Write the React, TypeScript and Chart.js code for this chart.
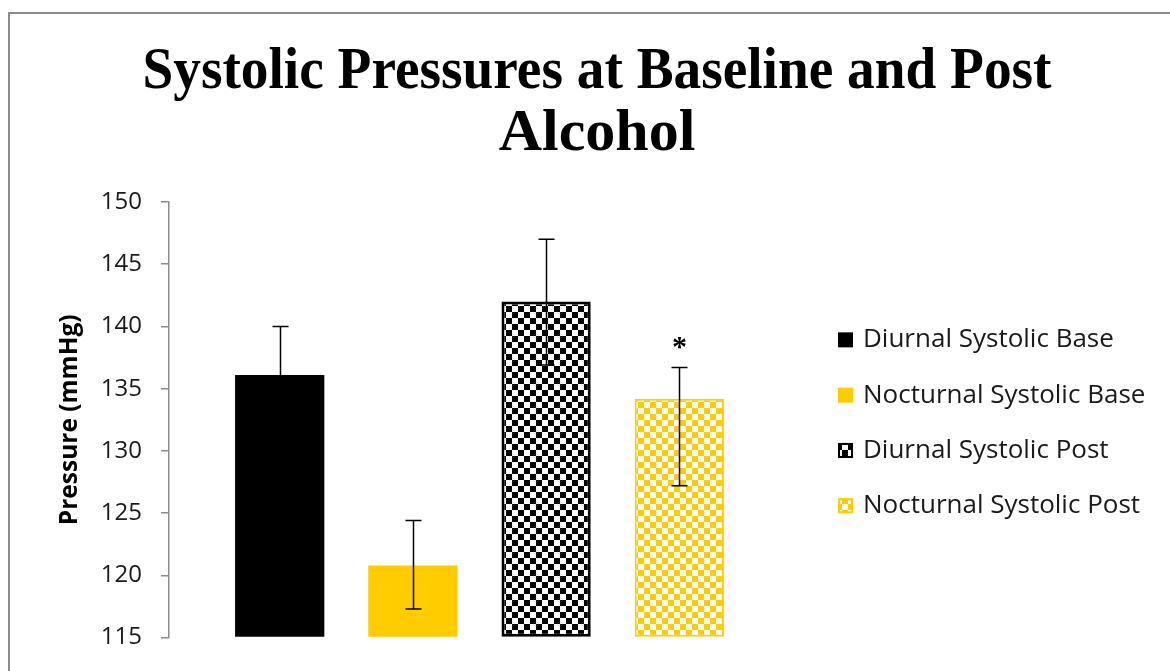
import React, { useEffect, useRef } from "react";
import { Chart, registerables } from "chart.js";

Chart.register(...registerables);

const titleLines = ["Systolic Pressures at Baseline and Post", "Alcohol"];
const yAxisTitle = "Pressure (mmHg)";
const categories = [""];
const seriesLabels = [
  "Diurnal Systolic Base",
  "Nocturnal Systolic Base",
  "Diurnal Systolic Post",
  "Nocturnal Systolic Post",
];
const seriesValues = [136.1, 120.8, 142.0, 134.2];
const errorPlus = [3.9, 3.6, 5.0, 2.5];
const errorMinus = [3.9, 3.5, 5.1, 7.0];
const significance = ["", "", "", "*"];
const yMin = 115;
const yMax = 150;
const yStep = 5;

const BLACK = "#000000";
const YELLOW = "#FFCC00";
const AXIS_GRAY = "#8c8c8c";
const TEXT_FONT = '"Open Sans", "Noto Sans", sans-serif';
const SERIF_FONT = '"Liberation Serif", "Times New Roman", serif';

function makeChecker(color: string): CanvasPattern | string {
  const c = document.createElement("canvas");
  const s = 6;
  c.width = s * 2;
  c.height = s * 2;
  const g = c.getContext("2d");
  if (!g) return color;
  g.fillStyle = "#ffffff";
  g.fillRect(0, 0, s * 2, s * 2);
  g.fillStyle = color;
  g.fillRect(0, 0, s, s);
  g.fillRect(s, s, s, s);
  const p = g.createPattern(c, "repeat");
  return p || color;
}

const frameAndBg = {
  id: "frameAndBg",
  beforeDraw(chart: any) {
    const { ctx, width, height } = chart;
    ctx.save();
    ctx.fillStyle = "#ffffff";
    ctx.fillRect(0, 0, width, height);
    ctx.fillStyle = "#8a8a8a";
    ctx.fillRect(0, 0, width, 2);
    ctx.fillRect(0, 0, 2, height);
    ctx.restore();
  },
};

const chartTitle = {
  id: "chartTitle",
  afterDraw(chart: any) {
    const { ctx, width } = chart;
    ctx.save();
    ctx.fillStyle = "#000";
    ctx.font = `bold 60px ${SERIF_FONT}`;
    ctx.textAlign = "center";
    ctx.textBaseline = "alphabetic";
    titleLines.forEach((line, i) => {
      ctx.fillText(line, width / 2, 76 + i * 62, 909);
    });
    ctx.restore();
  },
};

const errorBars = {
  id: "errorBars",
  afterDatasetsDraw(chart: any) {
    const { ctx } = chart;
    const yScale = chart.scales.y;
    ctx.save();
    chart.data.datasets.forEach((ds: any, i: number) => {
      const meta = chart.getDatasetMeta(i);
      const bar = meta.data[0];
      if (!bar) return;
      const v = seriesValues[i];
      const yU = yScale.getPixelForValue(v + errorPlus[i]);
      const yL = yScale.getPixelForValue(v - errorMinus[i]);
      const x = Math.round(bar.x) + 0.5;
      ctx.strokeStyle = "#000000";
      ctx.lineWidth = 1.5;
      ctx.beginPath();
      ctx.moveTo(x, yU);
      ctx.lineTo(x, yL);
      ctx.moveTo(x - 8, yU);
      ctx.lineTo(x + 8, yU);
      ctx.moveTo(x - 8, yL);
      ctx.lineTo(x + 8, yL);
      ctx.stroke();
      const mark = significance[i];
      if (mark) {
        ctx.fillStyle = "#000";
        ctx.font = `bold 30px ${SERIF_FONT}`;
        ctx.textAlign = "center";
        ctx.textBaseline = "alphabetic";
        ctx.fillText(mark, x, yU - 12);
      }
    });
    ctx.restore();
  },
};

const customLegend = {
  id: "customLegend",
  afterDraw(chart: any) {
    const { ctx, chartArea } = chart;
    const ds = chart.data.datasets;
    const spacing = 55.3;
    const centerY = (chartArea.top + chartArea.bottom) / 2 + 3;
    const boxX = chartArea.right + 48;
    const box = 15;
    ctx.save();
    ds.forEach((d: any, i: number) => {
      const cy = centerY + (i - (ds.length - 1) / 2) * spacing;
      ctx.fillStyle = d.backgroundColor;
      ctx.fillRect(boxX, cy - box / 2, box, box);
      if (d.borderWidth) {
        ctx.strokeStyle = d.borderColor;
        ctx.lineWidth = 2;
        ctx.strokeRect(boxX + 1, cy - box / 2 + 1, box - 2, box - 2);
      }
      ctx.fillStyle = "#1a1a1a";
      ctx.font = `26px ${TEXT_FONT}`;
      ctx.textAlign = "left";
      ctx.textBaseline = "middle";
      ctx.fillText(d.label, boxX + 25, cy);
    });
    ctx.restore();
  },
};

export default function App() {
  const ref = useRef<HTMLCanvasElement | null>(null);

  useEffect(() => {
    const canvas = ref.current;
    if (!canvas) return;
    const fills = [BLACK, YELLOW, makeChecker(BLACK), makeChecker(YELLOW)];
    const borders = [BLACK, YELLOW, BLACK, YELLOW];
    const borderWidths = [0, 0, 3, 2];
    const chart = new Chart(canvas, {
      type: "bar",
      data: {
        labels: categories,
        datasets: seriesLabels.map((label, i) => ({
          label,
          data: [seriesValues[i]],
          backgroundColor: fills[i] as any,
          borderColor: borders[i],
          borderWidth: borderWidths[i],
          borderSkipped: false,
          categoryPercentage: 0.858,
          barPercentage: 0.67,
          base: yMin,
        })),
      },
      options: {
        responsive: false,
        animation: false,
        events: [],
        layout: { padding: { left: 0, right: 396, top: 190, bottom: 29 } },
        plugins: {
          legend: { display: false },
          tooltip: { enabled: false },
          title: { display: false },
        },
        scales: {
          x: { display: false },
          y: {
            min: yMin,
            max: yMax,
            ticks: {
              stepSize: yStep,
              color: "#1a1a1a",
              font: { family: TEXT_FONT, size: 24 },
              padding: 19,
            },
            grid: {
              drawOnChartArea: false,
              drawTicks: true,
              tickLength: 8,
              color: AXIS_GRAY,
              lineWidth: 1.5,
            },
            border: { display: true, color: AXIS_GRAY, width: 1.5 },
            title: {
              display: true,
              text: yAxisTitle,
              color: "#000",
              font: { family: TEXT_FONT, size: 24.5, weight: "bold" },
              padding: { top: 47, bottom: 0 },
            },
            afterFit: (s: any) => {
              s.width = 161;
            },
          },
        },
      },
      plugins: [frameAndBg, errorBars, customLegend, chartTitle],
    });
    return () => chart.destroy();
  }, []);

  return (
    <div
      style={{
        position: "fixed",
        left: 0,
        top: 0,
        width: 1170,
        height: 671,
        overflow: "hidden",
        background: "#fff",
      }}
    >
      <canvas
        ref={ref}
        width={1178}
        height={659}
        style={{ position: "absolute", left: 8, top: 12, width: 1178, height: 659 }}
      />
    </div>
  );
}
